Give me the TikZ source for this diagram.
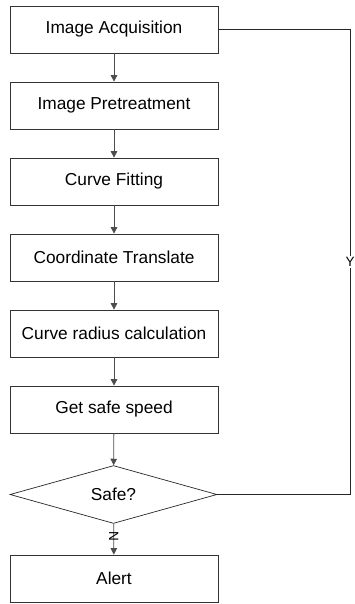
\documentclass[tikz,border=0pt]{standalone}
\usepackage{fontspec}
\setmainfont{Liberation Sans}
\usetikzlibrary{shapes.geometric,arrows.meta}
\begin{document}
\begin{tikzpicture}[x=1pt,y=-1pt,
  stepbox/.style={draw=black!80,line width=0.7pt,minimum width=208pt,minimum height=47pt,inner sep=0pt,font=\fontsize{17.3}{20}\selectfont},
  decide/.style={diamond,draw=black!85,line width=0.7pt,minimum width=207pt,minimum height=57pt,inner sep=0pt,font=\fontsize{17.3}{20}\selectfont},
  flow/.style={draw=black!70,line width=0.8pt,-{Triangle[length=6.5pt,width=6.5pt]}},
  loop/.style={draw=black!85,line width=0.8pt},
  lbl/.style={font=\fontsize{13.5}{15}\selectfont,inner sep=1pt}]
\useasboundingbox (0,0) rectangle (354,604);
\node[stepbox] (a) at (114,29.5) {Image Acquisition};
\node[stepbox] (b) at (114,105.5) {Image Pretreatment};
\node[stepbox] (c) at (114,181.5) {Curve Fitting};
\node[stepbox] (d) at (114,257.5) {Coordinate Translate};
\node[stepbox] (e) at (114,333.5) {Curve radius calculation};
\node[stepbox] (f) at (114,409.5) {Get safe speed};
\node[decide] (g) at (113.5,494.5) {Safe?};
\node[stepbox] (h) at (114,578.5) {Alert};
\draw[flow] (a) -- (b);
\draw[flow] (b) -- (c);
\draw[flow] (c) -- (d);
\draw[flow] (d) -- (e);
\draw[flow] (e) -- (f);
\draw[flow] (f) -- (g);
\draw[flow] (g) -- node[lbl,rotate=-90,pos=0.42]{N} (h);
\coordinate (r1) at (350,29.5);
\coordinate (r2) at (350,494.5);
\draw[loop] (a.east) -- (r1) -- node[lbl,fill=white,pos=0.5]{Y} (r2) -- (g.east);
\end{tikzpicture}
\end{document}
